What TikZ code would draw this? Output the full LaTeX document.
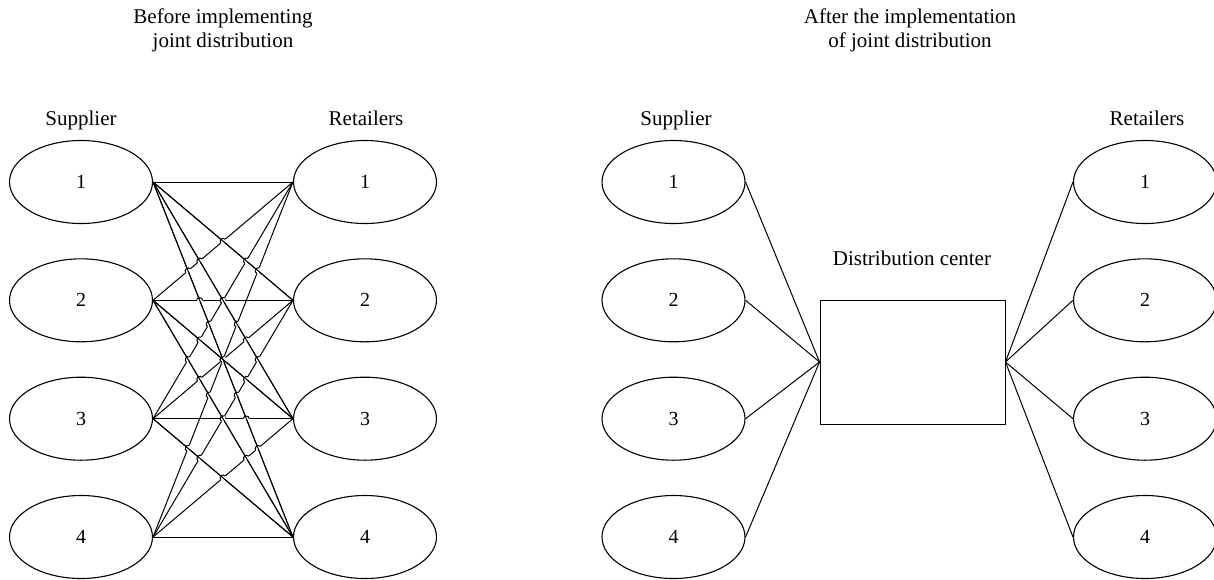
\documentclass[tikz,border=0pt]{standalone}
\usepackage{fontspec}
\setmainfont{Liberation Serif}
\usetikzlibrary{shapes.geometric,intersections,calc}
\begin{document}
\begin{tikzpicture}[x=1pt,y=-1pt,
  site/.style={ellipse,draw,line width=1.1pt,minimum width=143pt,minimum height=83pt,
    inner sep=0pt,font=\fontsize{20}{24}\selectfont},
  centre/.style={rectangle,draw,line width=0.9pt,minimum width=185pt,minimum height=124pt,inner sep=0pt},
  lbl/.style={font=\fontsize{21}{25}\selectfont,anchor=base,inner sep=0pt},
  link/.style={line width=1pt},
  eraser/.style={white,line width=3pt},
]
\useasboundingbox (0,0) rectangle (1214,579);

% ---------- left panel: every supplier to every retailer ----------
\node[lbl] (t1a) at (223,23) {Before implementing};
\node[lbl] (t1b) at (223,47.5) {joint distribution};
\node[lbl] (ls)  at (81,125) {Supplier};
\node[lbl] (lr)  at (366,125) {Retailers};

\foreach \k/\y in {1/182,2/300.3,3/418.7,4/537}{
  \node[site] (s\k) at (81,\y) {\k};
  \node[site] (r\k) at (365,\y) {\k};
}

\foreach \i in {1,...,4}{
  \foreach \j in {1,...,4}{
    \draw[link,name path global=p\i\j] (s\i.east) -- (r\j.west);
  }
}

% level and rising links jump over the falling ones
\foreach \i in {1,...,4}{
  \foreach \j in {1,...,4}{
    \ifnum\j>\i\relax\else
      \foreach \a in {1,...,4}{
        \foreach \b in {1,...,4}{
          \ifnum\b>\a\relax
            \ifnum\a=\i\relax\else\ifnum\b=\j\relax\else
              \path[name intersections={of={p\i\j} and {p\a\b},total=\t}] \pgfextra{\xdef\hopcount{\t}};
              \ifnum\hopcount>0\relax
                \coordinate (hx) at (intersection-1);
                \coordinate (h1) at ($(hx)!3pt!(s\i.east)$);
                \coordinate (h2) at ($(hx)!3pt!(r\j.west)$);
                \draw[eraser] (h1) -- (h2);
                \draw[link] (h1) to[bend left=90,looseness=1.5] (h2);
              \fi
            \fi\fi
          \fi
        }
      }
    \fi
  }
}

% falling links stay unbroken
\foreach \a in {1,...,4}{
  \foreach \b in {1,...,4}{
    \ifnum\b>\a\relax
      \draw[link] (s\a.east) -- (r\b.west);
    \fi
  }
}

% ---------- right panel: through a distribution center ----------
\node[lbl] (t2a) at (910,23) {After the implementation};
\node[lbl] (t2b) at (910,47.5) {of joint distribution};
\node[lbl] (rs)  at (676,125) {Supplier};
\node[lbl] (rr)  at (1147,125) {Retailers};
\node[lbl] (dcl) at (912,265) {Distribution center};

\node[centre] (dc) at (912.5,362) {};

\foreach \k/\y in {1/182,2/300.3,3/418.7,4/537}{
  \node[site] (u\k) at (673.5,\y) {\k};
  \node[site] (v\k) at (1145,\y) {\k};
  \draw[link] (u\k.east) -- (dc.west);
  \draw[link] (dc.east) -- (v\k.west);
}
\end{tikzpicture}
\end{document}
